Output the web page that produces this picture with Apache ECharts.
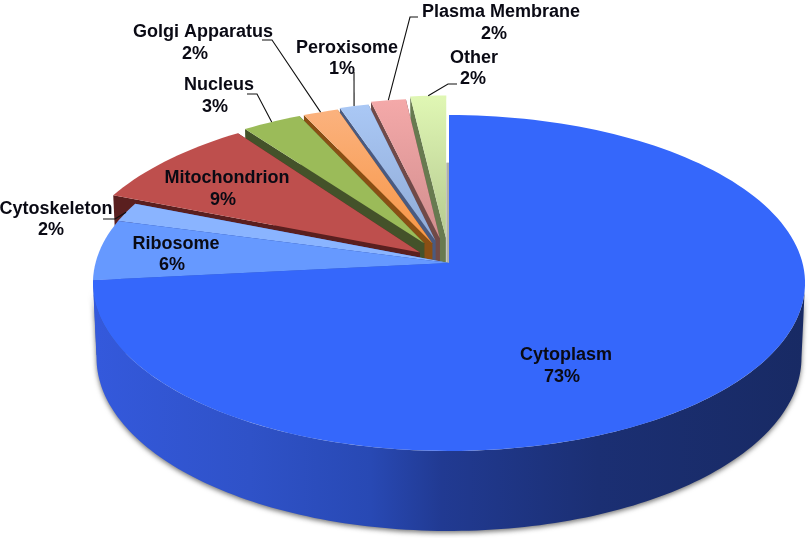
<!DOCTYPE html>
<html><head><meta charset="utf-8">
<style>html,body{margin:0;padding:0;background:#fff}#c{width:810px;height:538px}</style>
<script src="https://cdn.jsdelivr.net/npm/echarts@6/dist/echarts.min.js"></script>
</head><body><div id="c"></div>
<script>
// Data, clockwise from 12 o'clock
const categories = ['Cytoplasm','Ribosome','Cytoskeleton','Mitochondrion','Nucleus','Golgi Apparatus','Peroxisome','Plasma Membrane','Other'];
const shares = [73.35,5.85,1.9,8.9,3.06,1.8,1.49,1.8,1.85];

// Presentation
const explodeRim = [0,0,0,0.09,0.1,0.1,0.11,0.13,0.15];
const explodeApex = [0,0,0,0.105,0.14,0.13,0.144,0.155,0.155];
const topColors = ['#3567fb','#6699ff','#8ab4ff','#be4f4d','#9bbb59','#fbb27e','#aac8f5','#f4a9a9','#e0f7b4'];
const lowColors = ['#3567fb','#6699ff','#8ab4ff','#be4f4d','#9bbb59','#f79646','#8faad6','#d28e8e','#b5c990'];
const wallColors = ['#20398f','#3a5fc0','#4a6fc8','#5a1f1f','#44522a','#8a4f14','#4a5a80','#704a48','#687a50'];
// name centre x/y, percent centre x/y, leader elbow points (label side first)
const labelLayout = [
 {n:[566,355],p:[562,377]},
 {n:[176,244],p:[172,265]},
 {n:[56,209],p:[51,230],l:[[103,219],[115,219]]},
 {n:[227,178],p:[223,200]},
 {n:[219,85],p:[215,107],l:[[247,94],[257,94]]},
 {n:[203,32],p:[195,54],l:[[262,40],[272,40]]},
 {n:[347,48],p:[342,69],l:[[354,72]]},
 {n:[501,12],p:[494,34],l:[[418,17],[410,17]]},
 {n:[474,58],p:[473,79],l:[[457,84],[448,84]]}
];

// Perspective projection of the unit pie disc onto the page
const CX=449,Y0=263,RX=353.5,RY=165.6,K=0.119;
const project=(u,v)=>{const d=1-K*v;return [CX+RX*u/d,Y0+RY*v/d];};
const lower=(p,v)=>[CX+(p[0]-CX)*0.99,p[1]+74+6*v];
const total=shares.reduce((a,b)=>a+b,0);
const starts=[];shares.reduce((a,b,i)=>{starts[i]=a;return a+b;},0);
const ang=s=>s/total*2*Math.PI;

function sliceGeom(i){
  const a0=ang(starts[i]),a1=ang(starts[i]+shares[i]),mid=(a0+a1)/2;
  const ox=Math.sin(mid)*explodeRim[i],oy=-Math.cos(mid)*explodeRim[i];
  const ax=Math.sin(mid)*explodeApex[i],ay=-Math.cos(mid)*explodeApex[i];
  const steps=Math.max(2,Math.ceil((a1-a0)/0.03));
  const rim=[],rimUV=[];
  for(let s=0;s<=steps;s++){const a=a0+(a1-a0)*s/steps;const u=Math.sin(a)+ox,v=-Math.cos(a)+oy;rimUV.push([u,v]);rim.push(project(u,v));}
  return {apex:project(ax,ay),apexUV:[ax,ay],rim,rimUV,mid,ox,oy};
}
const poly=(pts,style,z)=>({type:'polygon',shape:{points:pts},style,z2:z||0,silent:true});
const grad=(a,b)=>new echarts.graphic.LinearGradient(0,0,0,1,[{offset:0,color:a},{offset:1,color:b}]);

function renderSlice(params,api){
  const i=api.value(0);
  const g=sliceGeom(i),children=[];
  if(i===0){
    // front cylinder wall
    const a0=Math.acos(-K),a1=2*Math.PI-Math.acos(-K);
    const top=[],bot=[];
    for(let a=a0;a<=a1+1e-6;a+=0.02){const u=Math.sin(a),v=-Math.cos(a),p=project(u,v);top.push(p);bot.push(lower(p,v));}
    children.push(poly(top.concat(bot.reverse()),{
      fill:new echarts.graphic.LinearGradient(0,0,1,0,[{offset:0,color:'#3459dc'},{offset:0.22,color:'#2f52c8'},{offset:0.39,color:'#2849b4'},{offset:0.49,color:'#213a92'},{offset:0.71,color:'#1b2f73'},{offset:1,color:'#182a64'}]),
      shadowBlur:5,shadowColor:'rgba(60,60,60,0.7)',shadowOffsetX:0,shadowOffsetY:2}));
  } else {
    // radial side walls
    const edge=(uv,p)=>{const aB=lower(g.apex,g.apexUV[1]),rB=lower(p,uv[1]);return [g.apex,p,rB,aB];};
    children.push(poly(edge(g.rimUV[0],g.rim[0]),{fill:wallColors[i]}));
    const n=g.rim.length-1;
    if(i===8){
      const p=g.rim[n],yB=lower(p,g.rimUV[n][1])[1],aB=lower(g.apex,g.apexUV[1])[1];
      children.push(poly([[p[0],yB],[CX+1,yB],[CX+1,aB],[p[0],aB]],{fill:'#aeb0a8'}));
    } else {
      children.push(poly(edge(g.rimUV[n],g.rim[n]),{fill:wallColors[i]}));
    }
  }
  const f=topColors[i]===lowColors[i]?topColors[i]:grad(topColors[i],lowColors[i]);
  children.push(poly([g.apex].concat(g.rim),{fill:f}));
  return {type:'group',children};
}
function renderLabel(params,api){
  const i=api.value(0),L=labelLayout[i],children=[];
  const font='700 18px "Liberation Sans"';
  const text=(t,c)=>({type:'text',silent:true,style:{text:t,x:c[0],y:c[1],font,fill:'#0a0a14',align:'center',verticalAlign:'middle'}});
  children.push(text(categories[i],L.n));
  children.push(text(Math.round(api.value(1)/total*100)+'%',L.p));
  if(L.l){
    const g=sliceGeom(i);
    const mu=Math.sin(g.mid)+g.ox,mv=-Math.cos(g.mid)+g.oy;
    children.push({type:'polyline',silent:true,shape:{points:L.l.concat([project(mu,mv)])},style:{fill:null,stroke:'#111',lineWidth:1.1}});
  }
  return {type:'group',children};
}
// back-most slice first, cytoplasm last
const paintOrder=categories.map((c,i)=>i).reverse();
const rows=paintOrder.map(i=>[i,shares[i],categories[i]]);
const chart=echarts.init(document.getElementById('c'),null,{renderer:'canvas'});
chart.setOption({
  animation:false,
  series:[
   {type:'custom',coordinateSystem:'none',data:rows,renderItem:renderSlice,z:2,silent:true},
   {type:'custom',coordinateSystem:'none',data:rows,renderItem:renderLabel,z:3,silent:true}
  ]
});
</script></body></html>
